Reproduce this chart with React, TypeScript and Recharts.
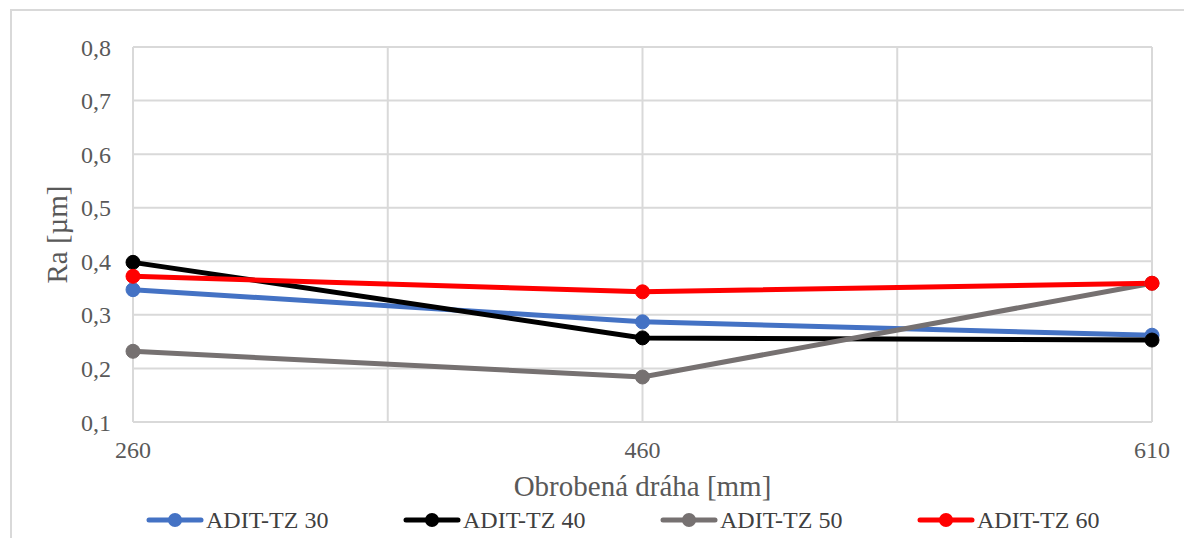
import React from "react";
import { LineChart, Line, XAxis, YAxis, CartesianGrid } from "recharts";

const categories = ["260", "460", "610"];
const tz30 = [0.347, 0.287, 0.262];
const tz40 = [0.398, 0.257, 0.253];
const tz50 = [0.232, 0.184, 0.359];
const tz60 = [0.372, 0.343, 0.359];
const yTicks = [0.1, 0.2, 0.3, 0.4, 0.5, 0.6, 0.7, 0.8];
const xTicks = [0, 0.5, 1, 1.5, 2];

const series = [
  { key: "tz30", name: "ADIT-TZ 30", color: "#4472C4", values: tz30 },
  { key: "tz40", name: "ADIT-TZ 40", color: "#000000", values: tz40 },
  { key: "tz50", name: "ADIT-TZ 50", color: "#767171", values: tz50 },
  { key: "tz60", name: "ADIT-TZ 60", color: "#FF0000", values: tz60 },
];

const data = categories.map((c, i) => {
  const row: any = { x: i, cat: c };
  series.forEach((s) => (row[s.key] = s.values[i]));
  return row;
});

const FONT = "Liberation Serif";

export default function App() {
  return (
    <div className="chart-root" style={{ position: "absolute", left: 0, top: 0, width: 1184, height: 538, background: "#fff", overflow: "hidden", fontFamily: FONT }}>
      <style>{`.chart-root, .chart-root * { font-family: "Liberation Serif", serif !important; }`}</style>
      <div style={{ position: "absolute", left: 10, top: 9, width: 1200, height: 560, borderLeft: "2px solid #d9d9d9", borderTop: "2px solid #d9d9d9" }} />
      <div style={{ position: "absolute", left: 0, top: 0 }}>
        <LineChart width={1184} height={538} data={data} margin={{ top: 47, right: 32, left: 0, bottom: 0 }}>
          <CartesianGrid stroke="#d9d9d9" strokeWidth={2} />
          <XAxis
            dataKey="x"
            type="number"
            domain={[0, 2]}
            ticks={xTicks}
            interval={0}
            height={116}
            axisLine={false}
            tickLine={false}
            tickFormatter={(v: number) => (Number.isInteger(v) ? categories[v] : "")}
            tick={{ fill: "#595959", fontSize: 24 }}
            tickMargin={13}
            label={{ value: "Obrobená dráha [mm]", position: "insideTop", offset: 53, fill: "#595959", fontSize: 29 }}
          />
          <YAxis
            type="number"
            domain={[0.1, 0.8]}
            ticks={yTicks}
            interval={0}
            width={133}
            axisLine={false}
            tickLine={false}
            tickMargin={16}
            tickFormatter={(v: number) => v.toFixed(1).replace(".", ",")}
            tick={{ fill: "#595959", fontSize: 24 }}
            label={{ value: "Ra [µm]", angle: -90, position: "insideLeft", offset: 57, fill: "#595959", fontSize: 29, style: { textAnchor: "middle" } }}
          />
          {series.map((s) => (
            <Line
              key={s.key}
              dataKey={s.key}
              name={s.name}
              stroke={s.color}
              strokeWidth={5}
              dot={{ r: 7, fill: s.color, stroke: s.color, strokeWidth: 1 }}
              activeDot={false}
              isAnimationActive={false}
            />
          ))}
        </LineChart>
      </div>
      {series.map((s, i) => (
        <div key={s.key} style={{ position: "absolute", left: 146 + i * 257, top: 506, height: 28, display: "flex", alignItems: "center" }}>
          <svg width={58} height={28}>
            <line x1={3} y1={14} x2={55} y2={14} stroke={s.color} strokeWidth={5} strokeLinecap="round" />
            <circle cx={29} cy={14} r={7} fill={s.color} />
          </svg>
          <span style={{ fontSize: 24, color: "#404040", marginLeft: 2, whiteSpace: "nowrap" }}>{s.name}</span>
        </div>
      ))}
    </div>
  );
}
